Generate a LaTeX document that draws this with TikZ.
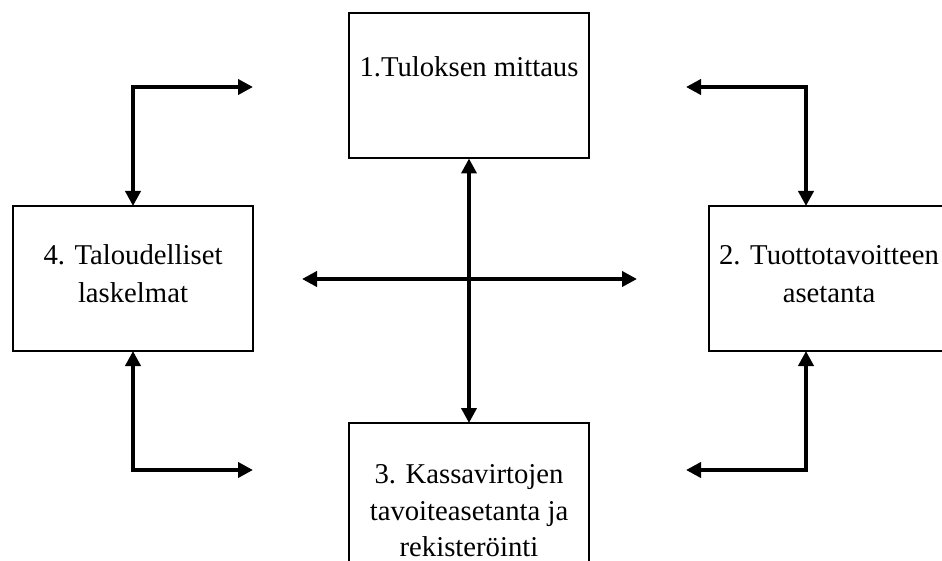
\documentclass[tikz,border=0pt]{standalone}
\usepackage{fontspec}
\setmainfont{Liberation Serif}
\usetikzlibrary{arrows.meta}
\begin{document}
\begin{tikzpicture}[x=1pt,y=-1pt,
  stagebox/.style={draw=black,line width=2pt,fill=white,minimum width=240pt,minimum height=145pt,inner sep=0pt,outer sep=0pt},
  boxtext/.style={anchor=base,inner sep=0pt,font=\fontsize{28.7pt}{37.5pt}\selectfont},
  flow/.style={line width=3.9pt,{Triangle[length=15pt,width=15pt]}-{Triangle[length=15pt,width=15pt]}}]
\useasboundingbox (0,0) rectangle (942,561);
\clip (0,0) rectangle (942,561);

% four stages of the cycle
\node[stagebox] (box1) at (469,86) {};
\node[stagebox] (box2) at (829,278.5) {};
\node[stagebox] (box3) at (469,495.5) {};
\node[stagebox] (box4) at (133,278.5) {};

% stage labels, one node per printed line
\node[boxtext] (t1a) at (469,77) {1.Tuloksen mittaus};
\node[boxtext] (t2a) at (829,265) {2. Tuottotavoitteen};
\node[boxtext] (t2b) at (829,302.5) {asetanta};
\node[boxtext] (t3a) at (469,483) {3. Kassavirtojen};
\node[boxtext] (t3b) at (469,520) {tavoiteasetanta ja};
\node[boxtext,text depth=0pt] (t3c) at (469,556) {rekisteröinti};
\node[boxtext] (t4a) at (133,265) {4. Taloudelliset};
\node[boxtext] (t4b) at (133,302.5) {laskelmat};

% central cross
\coordinate (hl) at (302,279);
\coordinate (hr) at (637,279);
\draw[flow] (box1.south) -- (box3.north);
\draw[flow] (hl) -- (hr);

% corner links between neighbouring stages
\coordinate (tlend) at (253,87);
\coordinate (trend) at (686,87);
\coordinate (trcorner) at (806,87);
\coordinate (blend) at (253,470);
\coordinate (brend) at (686,470);
\coordinate (brcorner) at (806,470);
\draw[flow] (box4.north) |- (tlend);
\draw[flow] (trend) -- (trcorner) -- (trcorner |- box2.north);
\draw[flow] (box4.south) |- (blend);
\draw[flow] (brend) -- (brcorner) -- (brcorner |- box2.south);
\end{tikzpicture}
\end{document}
